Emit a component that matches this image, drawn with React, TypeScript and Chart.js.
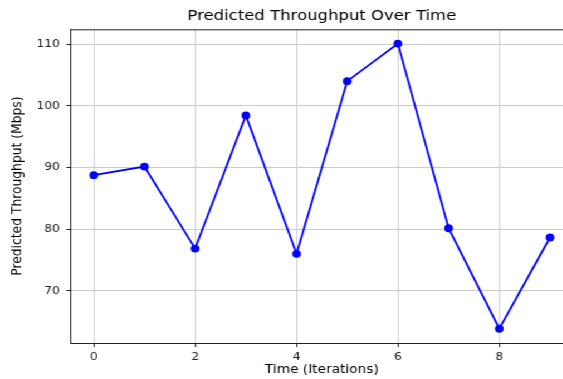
import React, { useEffect, useRef } from "react";
import { Chart, registerables } from "chart.js";

Chart.register(...registerables);

const iterations = [0, 1, 2, 3, 4, 5, 6, 7, 8, 9];
const throughput = [88.75, 90.15, 76.85, 98.45, 76.0, 104.0, 110.1, 80.15, 63.85, 78.65];
const xTicks = [0, 2, 4, 6, 8];
const yTicks = [70, 80, 90, 100, 110];

const titleText = "Predicted Throughput Over Time";
const xTitle = "Time (Iterations)";
const yTitle = "Predicted Throughput (Mbps)";

const STRETCH = 1.114;
const W = 540;
const H = 379;
const FONT = "'DejaVu Sans', sans-serif";

const framePlugin = {
  id: "frame",
  afterDatasetsDraw(chart: any) {
    const { ctx, chartArea } = chart;
    ctx.save();
    ctx.strokeStyle = "#222";
    ctx.lineWidth = 1;
    ctx.beginPath();
    ctx.moveTo(chartArea.left, chartArea.top + 0.5);
    ctx.lineTo(chartArea.right, chartArea.top + 0.5);
    ctx.lineTo(chartArea.right, chartArea.bottom);
    ctx.stroke();
    ctx.restore();
  },
};

export default function App() {
  const ref = useRef<HTMLCanvasElement | null>(null);
  useEffect(() => {
    if (!ref.current) return;
    const xMin = Math.min(...iterations);
    const xMax = Math.max(...iterations);
    const xPad = (xMax - xMin) * 0.05;
    const yMin = Math.min(...throughput);
    const yMax = Math.max(...throughput);
    const yPad = (yMax - yMin) * 0.05;
    const chart = new Chart(ref.current, {
      type: "line",
      data: {
        datasets: [
          {
            data: iterations.map((x, i) => ({ x, y: throughput[i] })),
            borderColor: "#0000ff",
            backgroundColor: "#0000ff",
            borderWidth: 1.8,
            pointRadius: 3.9,
            pointBorderWidth: 0,
            pointBackgroundColor: "#0000ff",
            tension: 0,
            fill: false,
          },
        ],
      },
      plugins: [framePlugin],
      options: {
        responsive: false,
        animation: false,
        devicePixelRatio: 1,
        layout: { padding: { left: 0, right: W - 514.2, top: 0, bottom: 0 } },
        plugins: {
          legend: { display: false },
          tooltip: { enabled: false },
          title: {
            display: true,
            text: titleText,
            fullSize: false,
            color: "#000",
            font: { family: FONT, size: 14.8, weight: "normal", lineHeight: 1.2 },
            padding: { top: 7.4, bottom: 4.14 },
          },
        },
        scales: {
          x: {
            type: "linear",
            min: xMin - xPad,
            max: xMax + xPad,
            afterFit: (s: any) => {
              s.height = 36;
            },
            afterBuildTicks: (s: any) => {
              s.ticks = xTicks.map((v) => ({ value: v }));
            },
            ticks: {
              color: "#222",
              font: { family: FONT, size: 11 },
              padding: 4,
              maxRotation: 0,
              autoSkip: false,
            },
            grid: {
              color: "#cccccc",
              lineWidth: 1,
              tickLength: 4,
              tickColor: "#222",
            },
            border: { color: "#222", width: 1 },
            title: {
              display: true,
              text: xTitle,
              color: "#000",
              font: { family: FONT, size: 12.3, lineHeight: 1.2 },
              padding: { top: 0, bottom: 2.1 },
            },
          },
          y: {
            type: "linear",
            min: yMin - yPad,
            max: yMax + yPad,
            afterFit: (s: any) => {
              s.width = 63.7;
            },
            afterBuildTicks: (s: any) => {
              s.ticks = yTicks.map((v) => ({ value: v }));
            },
            ticks: {
              color: "#222",
              font: { family: FONT, size: 11 },
              padding: 6,
              autoSkip: false,
            },
            grid: {
              color: "#cccccc",
              lineWidth: 1,
              tickLength: 4,
              tickColor: "#222",
            },
            border: { color: "#222", width: 1 },
            title: {
              display: true,
              text: yTitle,
              color: "#000",
              font: { family: FONT, size: 12.3, lineHeight: 1.2 },
              padding: { top: 8.8, bottom: 0 },
            },
          },
        },
      },
    });
    return () => chart.destroy();
  }, []);

  return (
    <div
      style={{
        position: "fixed",
        left: 0,
        top: 0,
        width: W,
        height: H,
        transform: `scaleX(${STRETCH})`,
        transformOrigin: "0 0",
        background: "#fff",
      }}
    >
      <canvas ref={ref} width={W} height={H} style={{ display: "block" }} />
    </div>
  );
}
